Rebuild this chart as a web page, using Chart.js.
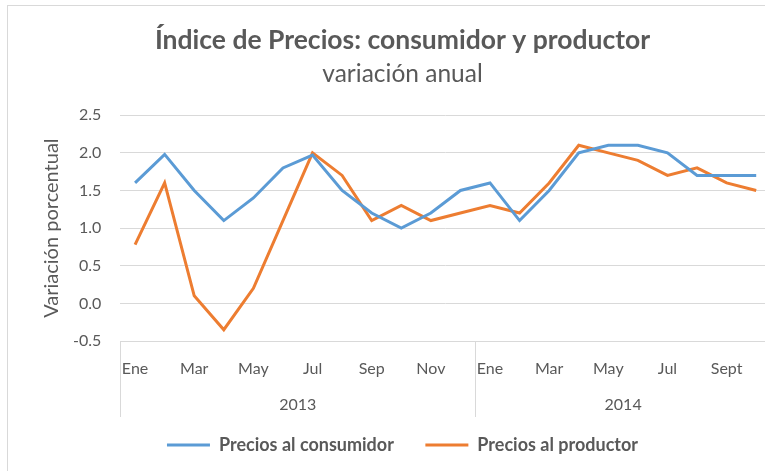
<!DOCTYPE html>
<html>
<head>
<meta charset="utf-8">
<script src="https://cdn.jsdelivr.net/npm/chart.js@4/dist/chart.umd.min.js"></script>
<style>
  html, body { margin: 0; background: #fff; overflow: hidden; }
  #frame { position: absolute; left: 7px; top: 5px; width: 800px; height: 500px; border: 1px solid #d9d9d9; }
  #wrap { position: absolute; left: 0; top: 0; width: 800px; height: 471px; }
</style>
</head>
<body>
<div id="frame"></div>
<div id="wrap"><canvas id="precios"></canvas></div>
<script>
// monthly labels, 2013-01 .. 2014-10
var meses = ['Ene', 'Feb', 'Mar', 'Abr', 'May', 'Jun', 'Jul', 'Ago', 'Sep', 'Oct', 'Nov', 'Dic',
             'Ene', 'Feb', 'Mar', 'Abr', 'May', 'Jun', 'Jul', 'Ago', 'Sept', 'Oct'];
var anios = ['2013', '2014'];
var centrosAnio = [5.5, 16.5];     // middle of each year's block of months
var separadores = [-0.5, 11.5];    // year boundaries

var consumidor = [1.6, 1.98, 1.5, 1.1, 1.4, 1.8, 1.97, 1.5, 1.2, 1.0, 1.2, 1.5,
                  1.6, 1.1, 1.5, 2.0, 2.1, 2.1, 2.0, 1.7, 1.7, 1.7];
var productor = [0.78, 1.6, 0.1, -0.35, 0.2, 1.1, 2.0, 1.7, 1.1, 1.3, 1.1, 1.2,
                 1.3, 1.2, 1.6, 2.1, 2.0, 1.9, 1.7, 1.8, 1.6, 1.5];

var gris = '#595959';
var rejilla = '#d9d9d9';
var fuente = 'Lato, "Open Sans", sans-serif';

var ctx = document.getElementById('precios').getContext('2d');

var grafico = new Chart(ctx, {
    type: 'line',
    data: {
        labels: meses,
        datasets: [
            {
                label: 'Precios al consumidor',
                data: consumidor,
                borderColor: '#5b9bd5',
                backgroundColor: '#5b9bd5',
                borderWidth: 3,
                pointRadius: 0,
                tension: 0
            },
            {
                label: 'Precios al productor',
                data: productor,
                borderColor: '#ed7d31',
                backgroundColor: '#ed7d31',
                borderWidth: 3,
                pointRadius: 0,
                tension: 0
            }
        ]
    },
    options: {
        responsive: true,
        maintainAspectRatio: false,
        animation: false,
        layout: { padding: { left: 34, right: 29, top: 17, bottom: 7 } },
        plugins: {
            title: {
                display: true,
                text: 'Índice de Precios: consumidor y productor',
                color: gris,
                font: { family: fuente, size: 26.5, weight: 'bold' },
                padding: { top: 8, bottom: 1 }
            },
            subtitle: {
                display: true,
                text: 'variación anual',
                color: gris,
                font: { family: fuente, size: 24.5 },
                padding: { top: 2, bottom: 26 }
            },
            legend: {
                position: 'bottom',
                labels: {
                    color: gris,
                    font: { family: fuente, size: 18, weight: 'bold' },
                    boxWidth: 43,
                    boxHeight: 3,
                    padding: 18,
                    generateLabels: function (chart) {
                        var items = Chart.defaults.plugins.legend.labels.generateLabels(chart);
                        items.forEach(function (it) { it.lineWidth = 0; });
                        items[0].text += '\u2003';
                        return items;
                    }
                }
            },
            tooltip: { enabled: false }
        },
        scales: {
            y: {
                min: -0.5,
                max: 2.5,
                ticks: {
                    stepSize: 0.5,
                    color: gris,
                    padding: 19,
                    font: { family: fuente, size: 16 },
                    callback: function (v) { return v.toFixed(1); }
                },
                grid: { color: rejilla, drawTicks: false },
                border: { display: false },
                title: {
                    display: true,
                    text: 'Variación porcentual',
                    color: gris,
                    font: { family: fuente, size: 20 },
                    padding: { top: 6, bottom: -10 }
                }
            },
            x: {
                offset: true,
                ticks: {
                    autoSkip: false,
                    maxRotation: 0,
                    color: gris,
                    padding: -19,
                    font: { family: fuente, size: 16 },
                    callback: function (v, i) { return i % 2 === 0 ? meses[i] : ''; }
                },
                grid: {
                    offset: true,
                    drawOnChartArea: false,
                    tickLength: 37,
                    color: function (c) {
                        return (c.index === 0 || c.index === 12) ? rejilla : 'transparent';
                    }
                },
                border: { color: rejilla },
                afterFit: function (scale) { scale.height = 37; }
            },
            anio: {
                type: 'linear',
                position: 'bottom',
                min: -0.5,
                max: 21.5,
                afterBuildTicks: function (scale) {
                    scale.ticks = separadores.concat(centrosAnio).sort(function (a, b) { return a - b; })
                        .map(function (v) { return { value: v }; });
                },
                ticks: {
                    autoSkip: false,
                    maxRotation: 0,
                    color: gris,
                    padding: -22,
                    font: { family: fuente, size: 16 },
                    callback: function (v) {
                        var k = centrosAnio.indexOf(v);
                        return k >= 0 ? anios[k] : '';
                    }
                },
                grid: {
                    drawOnChartArea: false,
                    tickLength: 39,
                    color: function (c) {
                        return (c.tick && separadores.indexOf(c.tick.value) >= 0) ? rejilla : 'transparent';
                    }
                },
                border: { display: false },
                afterFit: function (scale) { scale.height = 40; }
            }
        }
    }
});
</script>
</body>
</html>
